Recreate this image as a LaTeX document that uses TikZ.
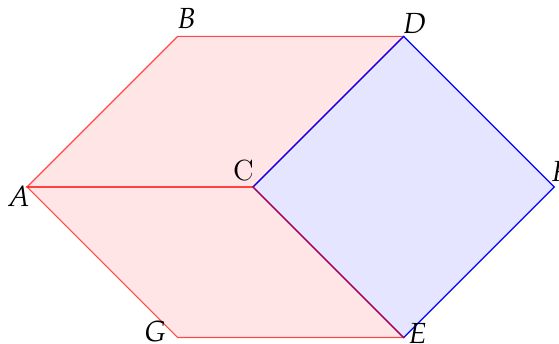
\documentclass[tikz,border=0pt]{standalone}
\usepackage{mathpazo}
\begin{document}
\begin{tikzpicture}[
  lbl/.style={inner sep=0pt, font=\fontsize{11}{13}\selectfont},
  redface/.style={draw=red, fill=red, fill opacity=0.1, draw opacity=0.7, line width=0.45pt, line join=miter},
  blueface/.style={draw=blue, fill=blue, fill opacity=0.1, draw opacity=1, line width=0.45pt, line join=miter}
]
\useasboundingbox (-3.36,-2.085) rectangle (4.064,2.483);
\coordinate (A) at (-3,0);
\coordinate (B) at (-1,2);
\coordinate (C) at (0,0);
\coordinate (D) at (2,2);
\coordinate (F) at (4,0);
\coordinate (E) at (2,-2);
\coordinate (G) at (-1,-2);
\filldraw[redface] (A) -- (B) -- (D) -- (C) -- cycle;
\filldraw[blueface] (C) -- (D) -- (F) -- (E) -- cycle;
\filldraw[redface] (A) -- (C) -- (E) -- (G) -- cycle;
\node[lbl] (lA) at (-3.114,-0.126) {$A$};
\node[lbl] (lB) at (-0.883,2.238) {$B$};
\node[lbl] (lC) at (-0.126,0.219) {C};
\node[lbl] (lD) at (2.145,2.171) {$D$};
\node[lbl, anchor=west] (lF) at (3.95,0.2) {$F$};
\node[lbl] (lE) at (2.185,-1.946) {$E$};
\node[lbl] (lG) at (-1.301,-1.919) {$G$};
\end{tikzpicture}
\end{document}
